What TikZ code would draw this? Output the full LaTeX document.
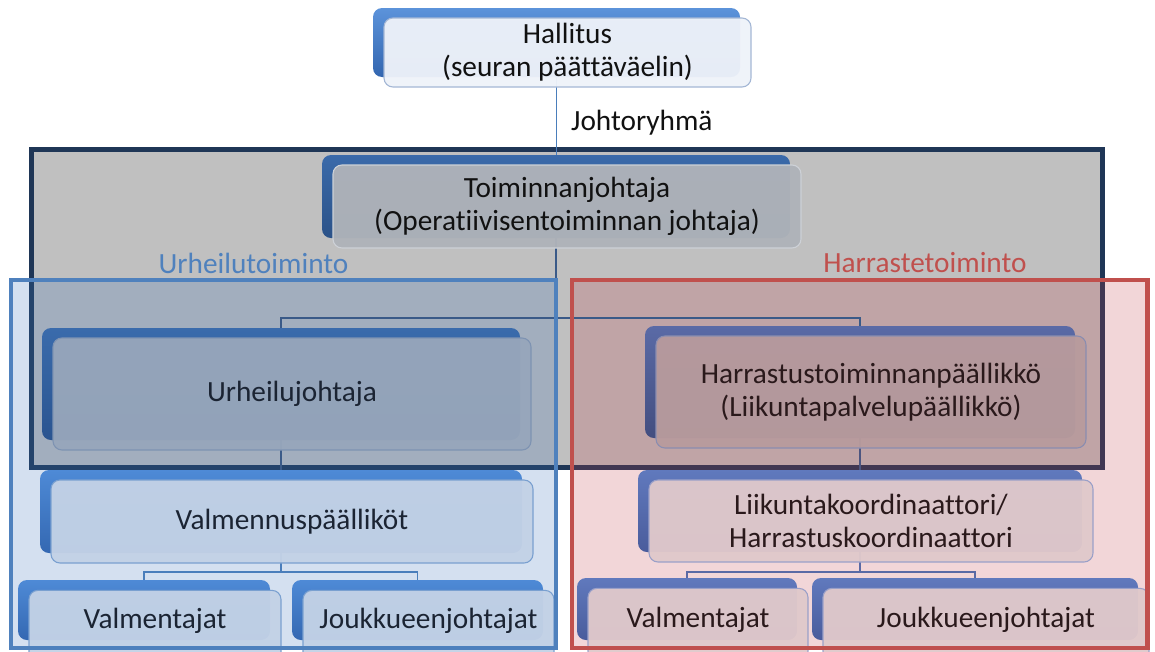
\documentclass[tikz,border=0pt]{standalone}
\usepackage{fontspec}
\setmainfont{Carlito}[Ligatures={NoCommon}]
\pgfdeclarelayer{bg}
\pgfdeclarelayer{conn}
\pgfdeclarelayer{fg}
\pgfsetlayers{bg,conn,main,fg}
\definecolor{gfill}{HTML}{C0C0C0}
\definecolor{gborder}{HTML}{1F3656}
\definecolor{bluebox}{HTML}{4F81BD}
\definecolor{redbox}{HTML}{C0504D}
\definecolor{bluetint}{HTML}{3A72BA}
\definecolor{redtint}{HTML}{C33E46}
\definecolor{bHt}{HTML}{5C93DA}\definecolor{bHb}{HTML}{3366B0}
\definecolor{bGt}{HTML}{3A6AAA}\definecolor{bGb}{HTML}{2B5288}
\definecolor{bGBt}{HTML}{3A6BAC}\definecolor{bGBb}{HTML}{2A5490}
\definecolor{bGRt}{HTML}{5A6AA6}\definecolor{bGRb}{HTML}{434E80}
\definecolor{bBt}{HTML}{4E8AD6}\definecolor{bBb}{HTML}{3468B2}
\definecolor{bRt}{HTML}{6079BD}\definecolor{bRb}{HTML}{4A5C9C}
\definecolor{fH}{HTML}{EEF2F9}\definecolor{dH}{HTML}{A4B7D5}
\definecolor{fG}{HTML}{AFB3B9}\definecolor{dG}{HTML}{CDD1D7}
\definecolor{fGB}{HTML}{97A6BB}\definecolor{dGB}{HTML}{7E93B2}
\definecolor{fGR}{HTML}{B89B9D}\definecolor{dGR}{HTML}{8A8DB0}
\definecolor{fB}{HTML}{C3D2E6}\definecolor{dB}{HTML}{7AA0D0}
\definecolor{fR}{HTML}{E0C9CB}\definecolor{dR}{HTML}{9AA0C8}
\definecolor{tK}{HTML}{111111}
\definecolor{tB}{HTML}{1B2433}
\definecolor{tR}{HTML}{2A191B}
\definecolor{cH}{HTML}{4A7EBB}
\definecolor{cG}{HTML}{3A5A88}
\definecolor{cR}{HTML}{4C5580}
\definecolor{cRB}{HTML}{5A6AA5}
\newcommand\fsz{\fontsize{29.3}{33}\selectfont}
% box with back panel and front panel carrying the text
\newcommand\orgbox[7]{%
  \node[back#6, minimum width=#4pt, minimum height=#5pt] (#1B) at (#2,#3) {};
  \node[front#6, minimum width=#4pt, minimum height=#5pt] (#1) at ([shift={(11,10)}]#1B.center) {#7};
}
% bottom-row box whose front panel runs off the lower edge
\newcommand\orgboxlow[7]{%
  \node[back#6, minimum width=#4pt, minimum height=#5pt] (#1B) at (#2,#3) {};
  \node[front#6, minimum width=#4pt, minimum height=72pt, anchor=north] (#1) at ([shift={(11,10)}]#1B.north) {};
  \node[txt#6] (#1T) at ([shift={(11,11)}]#1B.center) {#7};
}
\tikzset{
  basebox/.style={rectangle, rounded corners=9pt, inner sep=0pt, align=center},
  backH/.style={basebox, top color=bHt, bottom color=bHb},
  backG/.style={basebox, top color=bGt, bottom color=bGb},
  backGB/.style={basebox, top color=bGBt, bottom color=bGBb},
  backGR/.style={basebox, top color=bGRt, bottom color=bGRb},
  backB/.style={basebox, top color=bBt, bottom color=bBb},
  backR/.style={basebox, top color=bRt, bottom color=bRb},
  frontbase/.style={basebox, line width=1.1pt, fill opacity=0.96, text opacity=1},
  frontH/.style={frontbase, fill=fH, draw=dH, text=tK},
  frontG/.style={frontbase, fill=fG, draw=dG, text=tK},
  frontGB/.style={frontbase, fill=fGB, draw=dGB, text=tB},
  frontGR/.style={frontbase, fill=fGR, draw=dGR, text=tR},
  frontB/.style={frontbase, fill=fB, draw=dB, text=tB},
  frontR/.style={frontbase, fill=fR, draw=dR, text=tR},
  txtB/.style={inner sep=0pt, text=tB},
  txtR/.style={inner sep=0pt, text=tR},
  conn/.style={line width=1.7pt},
}
\begin{document}
\begin{tikzpicture}[x=1pt, y=-1pt, font=\fsz]
\useasboundingbox (0,0) rectangle (1155,651);

% background areas
\begin{pgfonlayer}{bg}
  \fill[gfill] (31.5,149.5) rectangle (1102.5,467);
  \draw[gborder, line width=5pt] (31.5,149.5) rectangle (1102.5,467);
  \fill[bluetint, fill opacity=0.22] (11,280) rectangle (556,648);
  \fill[redtint, fill opacity=0.21] (572,280) rectangle (1147.5,648);
\end{pgfonlayer}

% organisation boxes
\orgbox{hall}{556.5}{42.5}{367}{69}{H}{Hallitus\\(seuran päättäväelin)}
\orgbox{toim}{556}{196.5}{468}{83}{G}{Toiminnanjohtaja\\(Operatiivisentoiminnan johtaja)}
\orgbox{urh}{281}{384}{478}{112}{GB}{Urheilujohtaja}
\orgbox{har}{860}{382}{430}{112}{GR}{Harrastustoiminnanpäällikkö\\(Liikuntapalvelupäällikkö)}
\orgbox{val}{281}{511.5}{482}{83}{B}{Valmennuspäälliköt}
\orgbox{lii}{860}{511}{444}{82}{R}{Liikuntakoordinaattori/\\Harrastuskoordinaattori}
\orgboxlow{vl}{144}{610}{252}{60}{B}{Valmentajat}
\orgboxlow{jl}{417.5}{610}{251}{60}{B}{Joukkueenjohtajat}
\orgboxlow{vr}{687}{609}{220}{62}{R}{Valmentajat}
\orgboxlow{jr}{975}{609}{326}{62}{R}{Joukkueenjohtajat}

% labels
\node[anchor=west, text=tK, inner sep=0pt] (johto) at (571,123) {Johtoryhmä};
\node[text=bluebox, inner sep=0pt] (urhlab) at (253.5,263) {Urheilutoiminto};
\node[text=redbox, inner sep=0pt] (harlab) at (925,263) {Harrastetoiminto};

% connectors
\coordinate (j1) at (556,318);
\coordinate (j2) at (281,572);
\coordinate (j3) at (860,572);
\begin{pgfonlayer}{conn}
  \draw[conn, cH] (hallB.center) -- (hallB.center |- toimB.center);
  \draw[conn, cG] (toimB.center) -- (j1);
  \draw[conn, cG] (urhB.center) |- (j1) -| (harB.center);
  \draw[conn, cG] (urhB.center) -- (valB.center);
  \draw[conn, cR] (harB.center) -- (liiB.center);
  \draw[conn, cH] (valB.center) -- (j2);
  \draw[conn, cH] (vlB.center) |- (j2) -| (jlB.center);
  \draw[conn, cRB] (liiB.center) -- (j3);
  \draw[conn, cRB] (vrB.center) |- (j3) -| (jrB.center);
\end{pgfonlayer}

% frame borders
\begin{pgfonlayer}{fg}
  \draw[bluebox, line width=4.5pt] (11,280) rectangle (556,648);
  \draw[redbox, line width=4.5pt] (572,280) rectangle (1147.5,648);
\end{pgfonlayer}
\end{tikzpicture}
\end{document}
